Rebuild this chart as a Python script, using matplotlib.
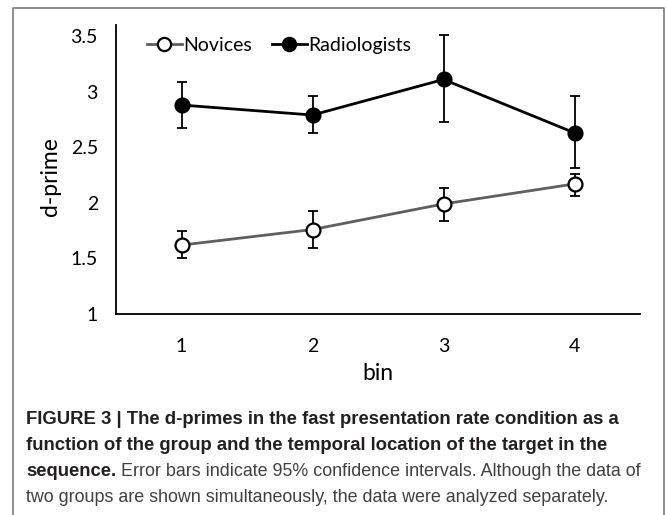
import matplotlib
matplotlib.use("Agg")
import matplotlib.pyplot as plt
from matplotlib.lines import Line2D

# values
bins = [1, 2, 3, 4]
novices = [1.62, 1.76, 1.99, 2.17]
novices_lo = [1.50, 1.59, 1.84, 2.06]
novices_hi = [1.75, 1.93, 2.13, 2.26]
radiologists = [2.88, 2.79, 3.11, 2.63]
radiologists_lo = [2.67, 2.63, 2.73, 2.31]
radiologists_hi = [3.09, 2.96, 3.51, 2.96]
yticks = [1, 1.5, 2, 2.5, 3, 3.5]
ytick_labels = ["1", "1.5", "2", "2.5", "3", "3.5"]

caption_bold = ["FIGURE 3 | The d-primes in the fast presentation rate condition as a",
                "function of the group and the temporal location of the target in the"]
caption_l3_bold = "sequence."
caption_l3_rest = " Error bars indicate 95% confidence intervals. Although the data of"
caption_l4 = "two groups are shown simultaneously, the data were analyzed separately."

W, H = 667, 515
CHART_FONT = "Lato"
CAP_FONT = "Liberation Sans"

fig = plt.figure(figsize=(W/100, H/100), dpi=100)
ax = fig.add_axes([116/W, 1-314/H, 524/W, 289/H])


def errs(vals, lo, hi):
    return [[v-l for v, l in zip(vals, lo)], [h-v for v, h in zip(vals, hi)]]


ax.errorbar(bins, radiologists, yerr=errs(radiologists, radiologists_lo, radiologists_hi),
            fmt="none", ecolor="black", elinewidth=1.3, capsize=3.5, capthick=1.3, zorder=2)
ax.errorbar(bins, novices, yerr=errs(novices, novices_lo, novices_hi),
            fmt="none", ecolor="black", elinewidth=1.3, capsize=3.5, capthick=1.3, zorder=2)
ax.plot(bins, novices, color="#5f5f5f", lw=2.0, marker="o", ms=10,
        mfc="white", mec="black", mew=1.6, zorder=3)
ax.plot(bins, radiologists, color="black", lw=2.0, marker="o", ms=10,
        mfc="black", mec="black", mew=1.6, zorder=3)

ax.set_xlim(0.5, 4.5)
ax.set_ylim(1, 3.6)
ax.set_yticks(yticks)
ax.set_yticklabels(ytick_labels)
ax.set_xticks(bins)
ax.tick_params(length=0, labelsize=14)
ax.tick_params(axis="y", pad=13)
ax.tick_params(axis="x", pad=17)
for lab in ax.get_xticklabels() + ax.get_yticklabels():
    lab.set_fontfamily(CHART_FONT)
for s in ["top", "right"]:
    ax.spines[s].set_visible(False)
for s in ["left", "bottom"]:
    ax.spines[s].set_linewidth(1.3)

handles = [Line2D([], [], color="#5f5f5f", lw=2.0, marker="o", ms=9.5, mfc="white",
                  mec="black", mew=1.6),
           Line2D([], [], color="black", lw=2.0, marker="o", ms=9.5, mfc="black",
                  mec="black", mew=1.6)]
ax.legend(handles, ["Novices", "Radiologists"], loc="upper left", ncol=2, frameon=False,
          bbox_to_anchor=(0.025, 1.02), handlelength=1.8, handletextpad=0.1,
          columnspacing=1.0, prop={"family": CHART_FONT, "size": 14})

fig.text(50/W, 1-177/H, "d-prime", rotation=90, ha="center", va="center",
         fontsize=16.5, family=CHART_FONT)
fig.text(378/W, 1-373/H, "bin", ha="center", va="center", fontsize=16.5, family=CHART_FONT)

# frame around figure panel
fig.add_artist(Line2D([13/W, 13/W, 664/W, 664/W], [0, 1-8/H, 1-8/H, 0],
                      transform=fig.transFigure, color="#7a7a7a", lw=1.2))

cap_x = 26/W
bold_size = 13.35
reg_size = 12.9
for i, line in enumerate(caption_bold):
    fig.text(cap_x, 1-(420+26*i)/H, line, ha="left", va="center", fontsize=bold_size,
             family=CAP_FONT, weight="bold", color="#231f20")
t3 = fig.text(cap_x, 1-472/H, caption_l3_bold, ha="left", va="center", fontsize=bold_size,
              family=CAP_FONT, weight="bold", color="#231f20")
fig.canvas.draw()
bb = t3.get_window_extent()
fig.text(bb.x1/W, 1-472/H, caption_l3_rest, ha="left", va="center", fontsize=reg_size,
         family=CAP_FONT, color="#404040")
fig.text(cap_x, 1-497/H, caption_l4, ha="left", va="center", fontsize=reg_size,
         family=CAP_FONT, color="#404040")

fig.savefig("out.png", dpi=100)
